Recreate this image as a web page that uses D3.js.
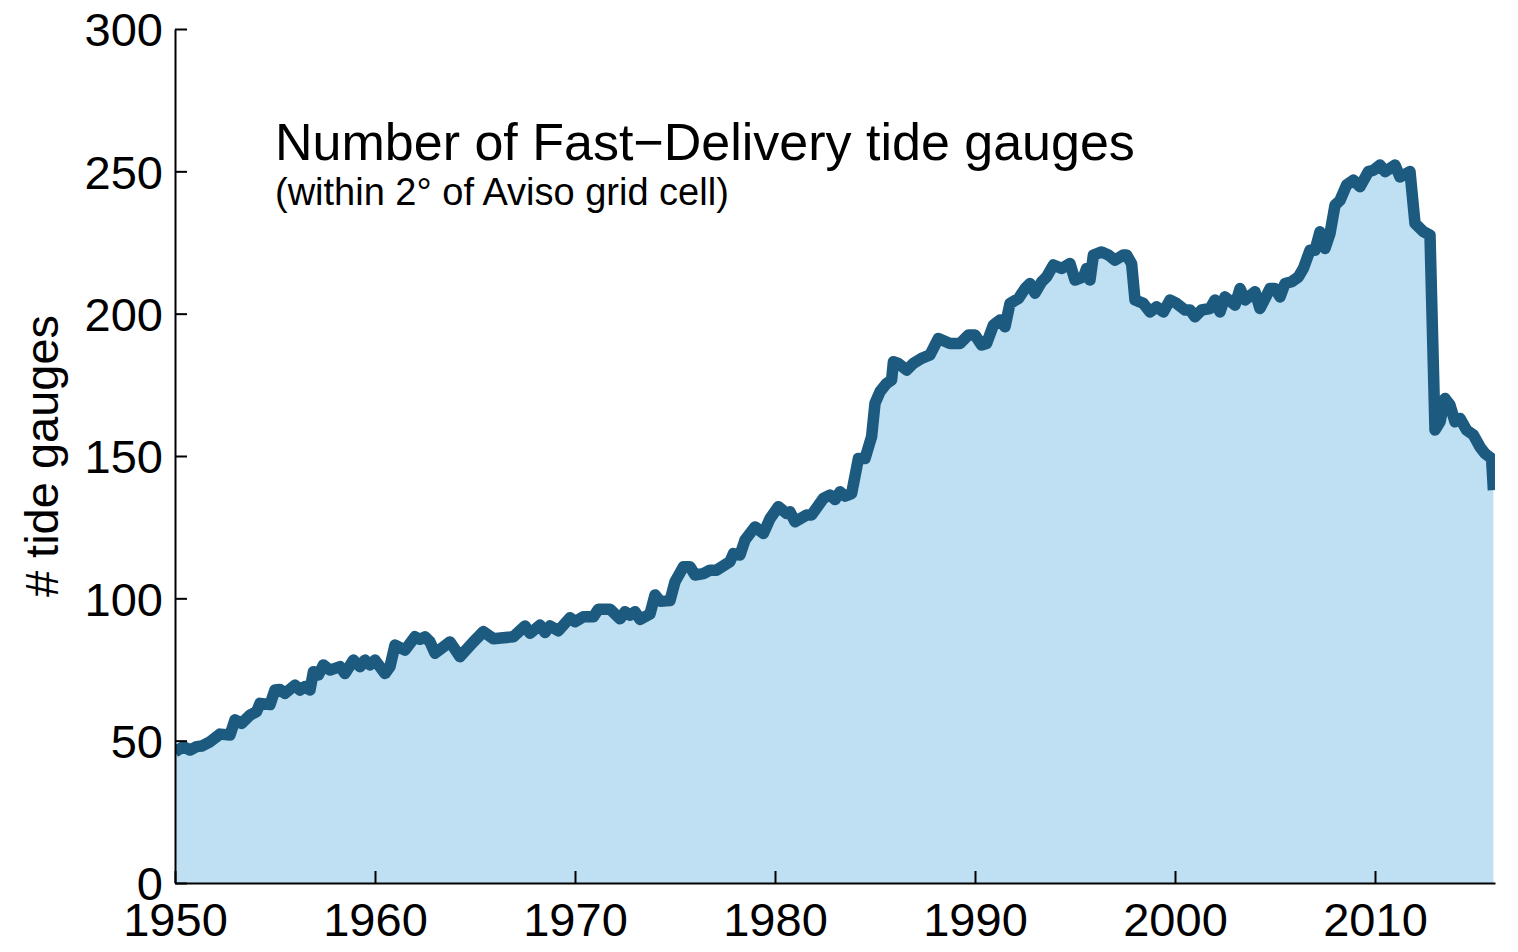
<!DOCTYPE html>
<html>
<head>
<meta charset="utf-8">
<script src="https://cdn.jsdelivr.net/npm/d3@7/dist/d3.min.js"></script>
<style>
  html, body { margin: 0; padding: 0; background: #fff; }
  svg { display: block; }
  text { font-family: "Liberation Sans", Arial, Helvetica, sans-serif; fill: #000; }
</style>
</head>
<body>
<svg id="chart" width="1518" height="952"></svg>
<script>
const title = "Number of Fast\u2212Delivery tide gauges";
const subtitle = "(within 2\u00b0 of Aviso grid cell)";
const yLabel = "# tide gauges";
const xTicks = [1950, 1960, 1970, 1980, 1990, 2000, 2010];
const yTicks = [0, 50, 100, 150, 200, 250, 300];
const xDomain = [1950, 2016];
const yDomain = [0, 300];

const years = [
  1950.0, 1950.42, 1950.75, 1951.08, 1951.33, 1951.75, 1952.25, 1952.75, 1953.0, 1953.33,
  1953.75, 1954.08, 1954.25, 1954.75, 1955.0, 1955.25, 1955.5, 1956.0, 1956.25, 1956.5,
  1956.75, 1956.92, 1957.17, 1957.42, 1957.75, 1958.25, 1958.5, 1958.92, 1959.25, 1959.5,
  1959.75, 1960.0, 1960.5, 1960.75, 1961.0, 1961.5, 1962.0, 1962.25, 1962.5, 1962.75,
  1963.0, 1963.75, 1964.25, 1964.92, 1965.42, 1965.92, 1966.92, 1967.5, 1967.75, 1968.25,
  1968.5, 1968.75, 1969.17, 1969.75, 1970.0, 1970.42, 1970.92, 1971.17, 1971.75, 1972.25,
  1972.5, 1972.75, 1973.0, 1973.25, 1973.75, 1974.0, 1974.25, 1974.75, 1975.0, 1975.42,
  1975.75, 1976.0, 1976.42, 1976.75, 1977.08, 1977.75, 1977.92, 1978.25, 1978.5, 1979.0,
  1979.42, 1979.75, 1980.17, 1980.58, 1980.75, 1981.0, 1981.58, 1981.83, 1982.42, 1982.75,
  1983.0, 1983.25, 1983.5, 1983.83, 1984.17, 1984.5, 1984.83, 1985.0, 1985.25, 1985.58,
  1985.83, 1985.92, 1986.17, 1986.58, 1986.92, 1987.33, 1987.75, 1988.17, 1988.75, 1989.25,
  1989.67, 1990.0, 1990.33, 1990.58, 1990.92, 1991.25, 1991.5, 1991.75, 1992.17, 1992.5,
  1992.75, 1993.0, 1993.33, 1993.58, 1993.92, 1994.33, 1994.75, 1995.0, 1995.42, 1995.58,
  1995.75, 1995.92, 1996.33, 1996.67, 1997.0, 1997.42, 1997.58, 1997.83, 1998.0, 1998.42,
  1998.75, 1999.08, 1999.42, 1999.75, 2000.08, 2000.5, 2000.75, 2001.0, 2001.33, 2001.75,
  2002.0, 2002.25, 2002.5, 2003.0, 2003.25, 2003.5, 2004.0, 2004.25, 2004.75, 2005.0,
  2005.25, 2005.5, 2005.83, 2006.17, 2006.42, 2006.75, 2007.0, 2007.25, 2007.5, 2007.75,
  2008.0, 2008.25, 2008.58, 2008.92, 2009.25, 2009.67, 2009.92, 2010.25, 2010.5, 2011.0,
  2011.25, 2011.75, 2012.0, 2012.42, 2012.75, 2013.0, 2013.25, 2013.5, 2013.75, 2014.0,
  2014.25, 2014.58, 2014.92, 2015.25, 2015.5, 2015.83, 2015.92
];
const gauges = [
  46.1, 47.9, 46.7, 47.9, 48.1, 49.6, 52.3, 52.0, 57.3, 56.1,
  59.0, 60.2, 63.1, 62.7, 67.8, 68.0, 66.6, 69.5, 67.8, 69.0,
  67.8, 74.2, 73.1, 76.6, 74.8, 76.0, 73.6, 78.3, 76.0, 78.3,
  76.6, 78.3, 73.6, 76.0, 83.6, 81.8, 86.5, 85.6, 86.5, 84.7,
  80.7, 84.7, 79.5, 84.7, 88.3, 85.8, 86.5, 90.3, 87.7, 90.6,
  88.0, 90.3, 88.6, 93.2, 91.8, 93.5, 93.5, 96.2, 96.2, 92.8,
  95.3, 94.1, 95.3, 92.6, 94.5, 101.2, 99.0, 99.2, 105.8, 111.1,
  111.1, 108.2, 108.7, 109.9, 109.9, 112.9, 115.7, 115.2, 120.5, 125.1,
  122.8, 128.0, 132.2, 129.8, 130.4, 126.9, 129.3, 129.3, 135.1, 136.3,
  134.7, 137.4, 135.9, 136.8, 149.1, 149.1, 156.8, 168.5, 172.6, 175.5,
  176.7, 183.1, 182.5, 180.2, 182.5, 184.3, 185.5, 191.3, 189.5, 189.5,
  192.5, 192.5, 189.0, 189.5, 196.0, 197.8, 195.4, 203.6, 205.3, 208.8,
  210.6, 207.2, 211.2, 212.9, 217.1, 215.9, 217.6, 211.8, 212.9, 215.9,
  211.8, 220.6, 221.7, 220.6, 218.8, 220.6, 220.6, 217.6, 204.8, 203.6,
  200.6, 202.4, 200.6, 204.8, 203.6, 201.3, 201.3, 198.9, 201.3, 201.8,
  204.8, 200.6, 205.9, 203.0, 208.8, 204.8, 207.7, 201.8, 208.8, 208.8,
  205.9, 210.6, 211.2, 212.9, 215.9, 222.3, 222.3, 228.8, 222.9, 228.2,
  238.1, 239.8, 245.2, 246.9, 244.6, 249.9, 250.4, 252.2, 249.9, 252.2,
  248.0, 249.9, 231.7, 228.8, 227.6, 159.1, 162.0, 170.2, 167.9, 162.0,
  163.2, 159.1, 157.4, 153.2, 150.9, 149.1, 138.0
];

(function () {
  const data = years.map((yr, i) => ({ year: yr, value: gauges[i] }));

  const svg = d3.select("#chart");
  const mLeft = 175, mRight = 1495, mTop = 29, mBottom = 883;

  const x = d3.scaleLinear().domain(xDomain).range([mLeft, mRight]);
  const y = d3.scaleLinear().domain(yDomain).range([mBottom, mTop]);

  svg.append("defs").append("clipPath").attr("id", "clip")
    .append("rect").attr("x", mLeft).attr("y", mTop)
    .attr("width", mRight - mLeft).attr("height", mBottom - mTop);

  const g = svg.append("g").attr("clip-path", "url(#clip)");

  g.append("path")
    .datum(data)
    .attr("fill", "#bfdff2")
    .attr("d", d3.area().x(d => x(d.year)).y0(y(0)).y1(d => y(d.value)));

  g.append("path")
    .datum(data)
    .attr("fill", "none")
    .attr("stroke", "#1c5a7f")
    .attr("stroke-width", 11.5)
    .attr("stroke-linejoin", "round")
    .attr("stroke-linecap", "butt")
    .attr("d", d3.line().x(d => x(d.year)).y(d => y(d.value)));

  const xAxis = d3.axisBottom(x).tickValues(xTicks).tickFormat(d3.format("d"))
    .tickSizeInner(-12).tickSizeOuter(0).tickPadding(22);
  const yAxis = d3.axisLeft(y).tickValues(yTicks).tickFormat(d3.format("d"))
    .tickSizeInner(-12).tickSizeOuter(0).tickPadding(24);

  const gx = svg.append("g").attr("transform", `translate(0,${mBottom})`).call(xAxis);
  const gy = svg.append("g").attr("transform", `translate(${mLeft},0)`).call(yAxis);

  [gx, gy].forEach(ax => {
    ax.select(".domain").attr("stroke", "#000").attr("stroke-width", 2);
    ax.selectAll(".tick line").attr("stroke", "#000").attr("stroke-width", 2);
    ax.selectAll(".tick text").attr("font-size", 47).attr("fill", "#000")
      .attr("font-family", "'Liberation Sans', Arial, sans-serif");
  });
  gx.selectAll(".tick text").attr("dy", "0.71em").attr("y", 20);
  gy.selectAll(".tick text").attr("dy", "0.36em").attr("x", -12);

  svg.append("text")
    .attr("transform", `translate(58,${(mTop + mBottom) / 2}) rotate(-90)`)
    .attr("text-anchor", "middle")
    .attr("font-size", 47)
    .text(yLabel);

  svg.append("text")
    .attr("x", 275).attr("y", 160)
    .attr("font-size", 52)
    .text(title);

  svg.append("text")
    .attr("x", 275).attr("y", 205)
    .attr("font-size", 38)
    .text(subtitle);
})();
</script>
</body>
</html>
